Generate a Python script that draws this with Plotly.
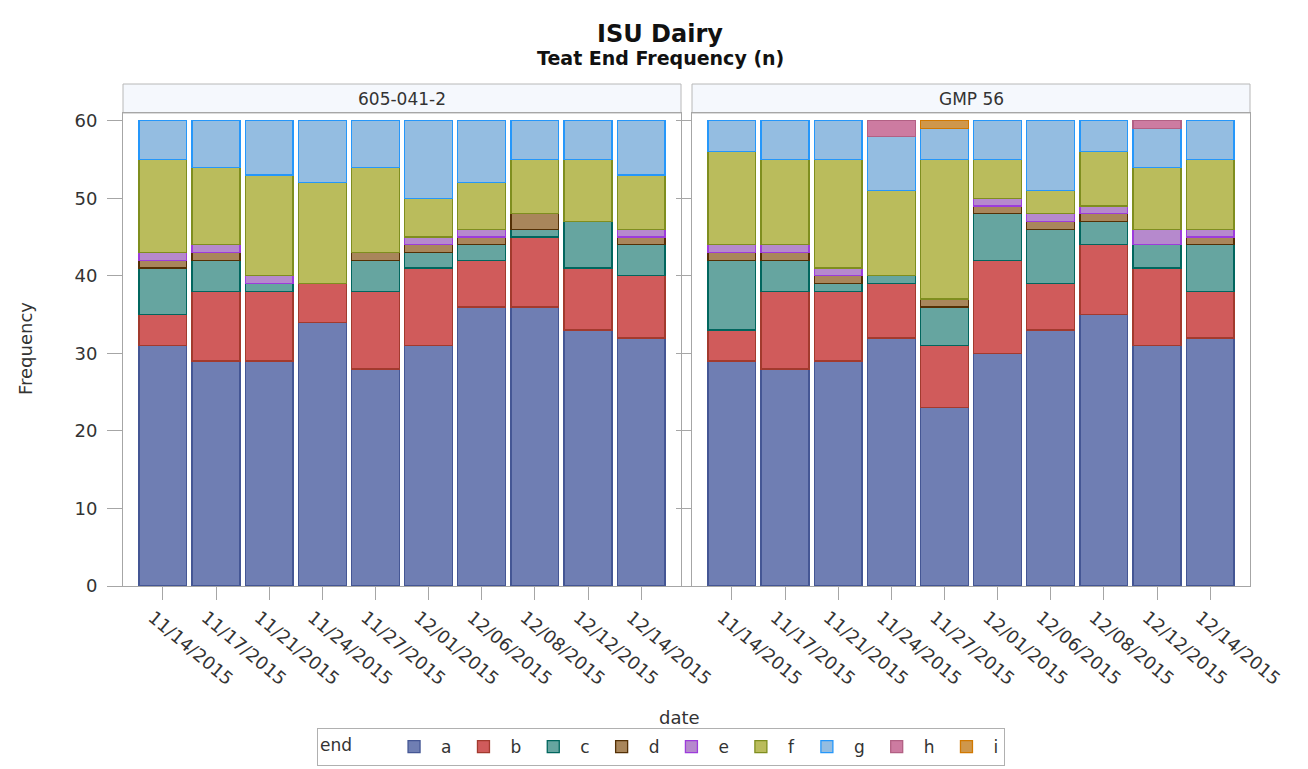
import plotly.graph_objects as go

dates = ["11/14/2015", "11/17/2015", "11/21/2015", "11/24/2015", "11/27/2015",
         "12/01/2015", "12/06/2015", "12/08/2015", "12/12/2015", "12/14/2015"]
panels = ["605-041-2", "GMP 56"]
ends = ["a", "b", "c", "d", "e", "f", "g", "h", "i"]

# Left panel: 605-041-2
p1_a = [31, 29, 29, 34, 28, 31, 36, 36, 33, 32]
p1_b = [4, 9, 9, 5, 10, 10, 6, 9, 8, 8]
p1_c = [6, 4, 1, 0, 4, 2, 2, 1, 6, 4]
p1_d = [1, 1, 0, 0, 1, 1, 1, 2, 0, 1]
p1_e = [1, 1, 1, 0, 0, 1, 1, 0, 0, 1]
p1_f = [12, 10, 13, 13, 11, 5, 6, 7, 8, 7]
p1_g = [5, 6, 7, 8, 6, 10, 8, 5, 5, 7]
p1_h = [0, 0, 0, 0, 0, 0, 0, 0, 0, 0]
p1_i = [0, 0, 0, 0, 0, 0, 0, 0, 0, 0]

# Right panel: GMP 56
p2_a = [29, 28, 29, 32, 23, 30, 33, 35, 31, 32]
p2_b = [4, 10, 9, 7, 8, 12, 6, 9, 10, 6]
p2_c = [9, 4, 1, 1, 5, 6, 7, 3, 3, 6]
p2_d = [1, 1, 1, 0, 1, 1, 1, 1, 0, 1]
p2_e = [1, 1, 1, 0, 0, 1, 1, 1, 2, 1]
p2_f = [12, 11, 14, 11, 18, 5, 3, 7, 8, 9]
p2_g = [4, 5, 5, 7, 4, 5, 9, 4, 5, 5]
p2_h = [0, 0, 0, 2, 0, 0, 0, 0, 1, 0]
p2_i = [0, 0, 0, 0, 1, 0, 0, 0, 0, 0]

panel1 = [p1_a, p1_b, p1_c, p1_d, p1_e, p1_f, p1_g, p1_h, p1_i]
panel2 = [p2_a, p2_b, p2_c, p2_d, p2_e, p2_f, p2_g, p2_h, p2_i]

fills = ["#6F7EB3", "#D05B5B", "#66A5A0", "#A9865B", "#B689CD",
         "#BABC5C", "#94BDE1", "#CD7BA1", "#CF974B"]
lines = ["#445694", "#A23A2E", "#01665E", "#543005", "#9D3CDB",
         "#7F8E1F", "#2597FA", "#B26084", "#D17800"]

FONT = "DejaVu Sans, sans-serif"
TXT = "#333333"

fig = go.Figure()
for k, e in enumerate(ends):
    for pi, (vals, xa, ya) in enumerate([(panel1[k], "x", "y"), (panel2[k], "x2", "y2")]):
        fig.add_trace(go.Bar(
            x=dates, y=[v if v else None for v in vals], name=e,
            xaxis=xa, yaxis=ya, legendgroup=e, showlegend=(pi == 0),
            marker=dict(color=fills[k], line=dict(color=lines[k], width=1.3)),
            width=0.9, opacity=1,
        ))

# page has an 8px body margin: work in page pixels and convert
OFF = 8
W, H = 1300, 761
left_px, right_px, top_px, bot_px = 123, 1250, 113, 586  # page pixels of plot area
ml = left_px - OFF
mr = W - (right_px - OFF)
mt = top_px - OFF
mb = H - (bot_px - OFF)
pw = W - ml - mr
ph = H - mt - mb


def px(xp):
    return (xp - left_px) / pw


def py(yp):
    return (bot_px - yp) / ph


d1 = [0, px(681)]
d2 = [px(692), 1]

axis_common = dict(type="category", categoryorder="array", categoryarray=dates,
                   range=[-0.75, 9.75], showline=True, linecolor="#A6A6A6", linewidth=1,
                   mirror=True, ticks="outside", ticklen=13, tickcolor="#A6A6A6",
                   tickangle=40, ticklabelshift=-10,
                   tickfont=dict(family=FONT, size=18, color=TXT),
                   showgrid=False, zeroline=False, automargin=False)
yaxis_common = dict(range=[0, 61], showline=True, linecolor="#A6A6A6", linewidth=1,
                    mirror=True, ticks="outside", ticklen=15, tickcolor="#A6A6A6",
                    tickvals=[0, 10, 20, 30, 40, 50, 60],
                    showgrid=False, zeroline=False, automargin=False)

fig.update_layout(
    width=W, height=H, barmode="stack", bargap=0.1,
    margin=dict(l=ml, r=mr, t=mt, b=mb, autoexpand=False),
    paper_bgcolor="white", plot_bgcolor="white",
    font=dict(family=FONT, color=TXT),
    xaxis=dict(domain=d1, anchor="y", **axis_common),
    xaxis2=dict(domain=d2, anchor="y2", **axis_common),
    yaxis=dict(domain=[0, 1], anchor="x", tickfont=dict(family=FONT, size=18, color=TXT),
               ticklabelstandoff=6, **yaxis_common),
    yaxis2=dict(domain=[0, 1], anchor="x2", matches="y", showticklabels=False, **yaxis_common),
    legend=dict(orientation="h", x=px(661), xanchor="center",
                y=py(766), yanchor="bottom", valign="middle",
                title=dict(text="end     ", side="left",
                           font=dict(family=FONT, size=17, color=TXT)),
                font=dict(family=FONT, size=17, color=TXT),
                bordercolor="#B0B0B0", borderwidth=1, itemwidth=44,
                traceorder="normal"),
    showlegend=True,
)

shapes = []
annotations = []
for dom, name in [(d1, panels[0]), (d2, panels[1])]:
    shapes.append(dict(type="rect", xref="paper", yref="paper", x0=dom[0], x1=dom[1],
                       y0=1, y1=py(84), fillcolor="#F5F8FD",
                       line=dict(color="#B8B8B8", width=1), layer="below"))
    annotations.append(dict(text=name, xref="paper", yref="paper", x=(dom[0] + dom[1]) / 2,
                            y=py(98.5), showarrow=False, xanchor="center",
                            yanchor="middle", font=dict(family=FONT, size=17, color=TXT)))

annotations += [
    dict(text="<b>ISU Dairy</b>", xref="paper", yref="paper", x=px(660),
         y=py(34), showarrow=False, xanchor="center", yanchor="middle",
         font=dict(family=FONT, size=24, color="#111111")),
    dict(text="<b>Teat End Frequency (n)</b>", xref="paper", yref="paper", x=px(660),
         y=py(58), showarrow=False, xanchor="center", yanchor="middle",
         font=dict(family=FONT, size=19, color="#111111")),
    dict(text="date", xref="paper", yref="paper", x=px(679),
         y=py(717), showarrow=False, xanchor="center", yanchor="middle",
         font=dict(family=FONT, size=18, color=TXT)),
    dict(text="Frequency", xref="paper", yref="paper", x=px(25),
         y=py(349), showarrow=False, xanchor="center", yanchor="middle",
         textangle=-90, font=dict(family=FONT, size=18, color=TXT)),
]
fig.update_layout(shapes=shapes, annotations=annotations)

fig.write_html("out.html")
